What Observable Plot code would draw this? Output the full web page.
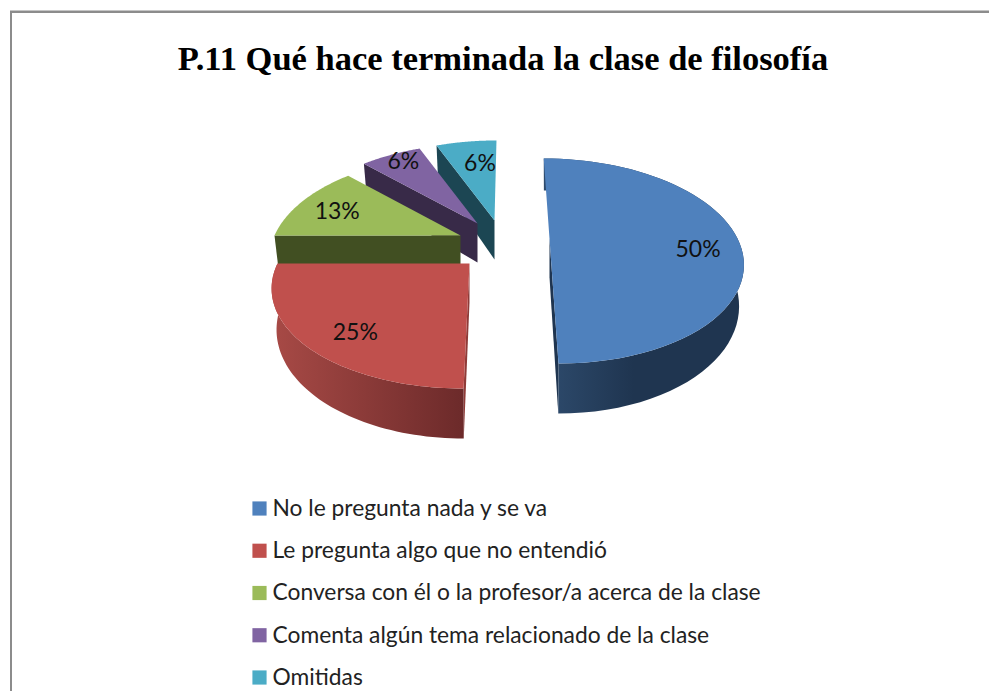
<!DOCTYPE html>
<html><head><meta charset="utf-8">
<script src="https://cdn.jsdelivr.net/npm/d3@7"></script>
<script src="https://cdn.jsdelivr.net/npm/@observablehq/plot@0.6"></script>
<style>html,body{margin:0;padding:0;background:#fff}svg{display:block}</style>
</head><body><div id="chart"></div>
<script>
const chartTitle = "P.11 Qué hace terminada la clase de filosofía";
const categories = ["No le pregunta nada y se va","Le pregunta algo que no entendió","Conversa con él o la profesor/a acerca de la clase","Comenta algún tema relacionado de la clase","Omitidas"];
const shares = [50,25,12.5,6.25,6.25];

// styles
const topColors = ["#4f81bd","#c0504d","#9bbb59","#8064a2","#4bacc6"];
const sideColors = ["#1f3550","#7a2f2d","#414f22","#382a48","#1c4653"];
// 3D layout of each exploded slice: hub on screen, width, vanishing shear
const hubX = [549,469,460,477,494];
const hubY = [238,263,235,223,220];
const spread = [188,192,186,188,188];
const shear = [32,-21,-11,-11,-11];
const labelTurn = [8,-5.7,-2.3,1.25,3];
const labelReach = [0.775,0.79,0.75,0.87,0.68];
const G = 97.6, K = 0.2195, DROP = 39, SHRINK = 0.975;

const sum = d3.sum(shares);
let acc = 0;
const slices = shares.map((v,i)=>{const a0=acc/sum*360; acc+=v; return {i,a0,a1:acc/sum*360};});

function project(i,deg,r,low){
  const t=deg*Math.PI/180, X=r*Math.sin(t), Z=-r*Math.cos(t), den=1-K*Z;
  let x=hubX[i]+shear[i]*K*Z/den+spread[i]*X/den;
  let y=hubY[i]+G*Z/den;
  if(low){x=hubX[i]+(x-hubX[i])*SHRINK; y+=DROP/den;}
  return {x,y};
}
const arc=(s,low,rev)=>{const n=60,p=d3.range(n+1).map(k=>project(s.i,s.a0+(s.a1-s.a0)*k/n,1,low));return rev?p.reverse():p;};
const topFace=s=>[project(s.i,0,0,false),...arc(s,false,false)];
const rim=s=>[...arc(s,false,false),...arc(s,true,true)];
const edge=(s,deg)=>[project(s.i,0,0,false),project(s.i,deg,1,false),project(s.i,deg,1,true),project(s.i,0,0,true)];

const poly=(pts,fill)=>Plot.line(pts,{x:"x",y:"y",fill,stroke:"none",curve:"linear"});

const defs=()=>{
  const d=d3.create("svg:defs");
  const mk=(id,stops)=>{const g=d.append("linearGradient").attr("id",id).attr("x1",0).attr("x2",1).attr("y1",0).attr("y2",0);
    stops.forEach(([o,c])=>g.append("stop").attr("offset",o).attr("stop-color",c));};
  mk("wall0",[[0,"#2e4b6d"],[0.45,"#1f3550"],[1,"#1f3550"]]);
  mk("wall1",[[0,"#a84a46"],[1,"#6c2a2a"]]);
  return d.node();
};

const drawOrder=[4,3,2,0,1];
const sliceMarks=drawOrder.flatMap(i=>{
  const s=slices[i]; const m=[];
  if(i===0){m.push(poly(edge(s,180),sideColors[0]),poly(rim(s),"url(#wall0)"));}
  else if(i===1){m.push(poly(edge(s,180),"#8f3b38"),poly(rim(s),"url(#wall1)"));}
  else {m.push(poly(edge(s,s.a0),sideColors[i]));}
  m.push(poly(topFace(s),topColors[i]));
  return m;
});

const labels=slices.map(s=>{const p=project(s.i,(s.a0+s.a1)/2+labelTurn[s.i],labelReach[s.i],false);
  return {...p,t:Math.round(shares[s.i]+1e-9)+"%"};});
const legendRows=categories.map((c,i)=>({c,i,y:508+i*42.25}));

const chart=Plot.plot({
  width:989,height:691,margin:0,
  x:{domain:[0,989],range:[0,989],axis:null},
  y:{domain:[0,691],range:[0,691],axis:null},
  marks:[
    defs,
    Plot.ruleX([10.5],{y1:11,y2:691,stroke:"#8c8c8c",strokeWidth:2}),
    Plot.ruleY([11.3],{x1:10,x2:989,stroke:"#8c8c8c",strokeWidth:2.4}),
    ...sliceMarks,
    Plot.text(labels,{x:"x",y:"y",text:"t",fontFamily:"Lato",fontSize:23,fill:"#111"}),
    Plot.text([chartTitle],{x:()=>502.5,y:()=>58,text:d=>d,fontFamily:"Liberation Serif",fontWeight:"bold",fontSize:34.5,fill:"#000"}),
    Plot.dot(legendRows,{x:()=>259,y:"y",symbol:"square",r:8,fill:d=>topColors[d.i],stroke:"none"}),
    Plot.text(legendRows,{x:()=>272,y:"y",text:"c",textAnchor:"start",fontFamily:"Lato",fontSize:22.8,fill:"#222"})
  ]
});
document.getElementById("chart").append(chart);
</script></body></html>
